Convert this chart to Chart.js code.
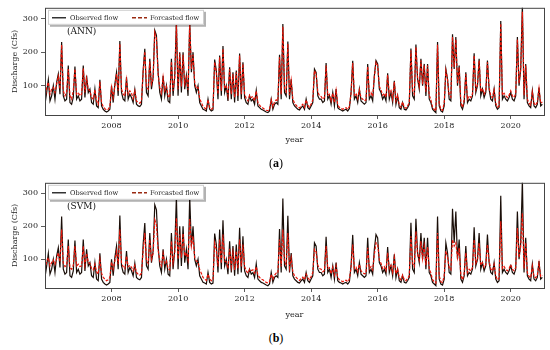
<!DOCTYPE html>
<html>
<head>
<meta charset="utf-8">
<script src="https://cdn.jsdelivr.net/npm/chart.js@4/dist/chart.umd.min.js"></script>
<style>
  body { margin: 0; background: #fff; width: 550px; height: 350px; position: relative; overflow: hidden; }
  canvas { position: absolute; left: 0; }
  .model { position: absolute; left: 67px; font: 9px "DejaVu Serif", serif; color: #111; }
  .panel-tag { position: absolute; left: 0; width: 552px; text-align: center; font: 12px "Liberation Serif", serif; color: #000; }
  .panel-tag b { color: #000; }
</style>
</head>
<body>
<canvas id="chart-a" width="550" height="150" style="top:0"></canvas>
<canvas id="chart-b" width="550" height="150" style="top:175px"></canvas>
<div class="model" style="top:26px">(ANN)</div>
<div class="model" style="top:201px">(SVM)</div>
<div class="panel-tag" style="top:156px">(<b>a</b>)</div>
<div class="panel-tag" style="top:331px">(<b>b</b>)</div>
<script>
/* ============================================================
   Observed vs forecasted discharge, ANN (a) and SVM (b)
   ============================================================ */

// time axis: one value every 0.05 year starting at 2006.0
const startYear = 2006;
const stepYears = 0.05;
const yearTicks = [2008, 2010, 2012, 2014, 2016, 2018, 2020];
const flowTicks = [100, 200, 300];

// observed flow (cfs), one row per year
const observedFlow = [
  45, 80, 118, 55, 70, 100, 60, 110, 135, 75, 230, 70, 55, 60, 160, 50, 45, 65, 157, 60,     // 2006
  70, 55, 60, 160, 65, 130, 80, 90, 50, 45, 90, 40, 35, 118, 40, 30, 25, 22, 25, 30,         // 2007
  100, 50, 105, 140, 70, 233, 80, 60, 55, 125, 60, 75, 65, 50, 88, 45, 40, 38, 45, 145,      // 2008
  210, 80, 70, 180, 90, 125, 265, 250, 140, 80, 60, 130, 70, 100, 55, 50, 180, 70, 130, 290, // 2009
  70, 200, 80, 200, 90, 130, 70, 290, 140, 200, 100, 80, 100, 50, 40, 30, 28, 25, 60, 30,    // 2010
  25, 28, 178, 145, 60, 190, 70, 218, 80, 100, 55, 155, 60, 140, 50, 145, 55, 196, 60, 170,  // 2011
  65, 50, 45, 70, 55, 60, 45, 86, 40, 35, 30, 28, 25, 22, 20, 25, 60, 30, 45, 50,            // 2012
  45, 192, 60, 284, 80, 70, 232, 60, 119, 50, 40, 35, 30, 28, 35, 40, 30, 60, 35, 30,        // 2013
  40, 50, 150, 140, 70, 60, 60, 50, 55, 168, 60, 70, 45, 80, 40, 90, 35, 30, 28, 25,         // 2014
  28, 30, 25, 32, 80, 174, 60, 70, 50, 90, 55, 50, 45, 50, 165, 60, 70, 55, 130, 175,        // 2015
  165, 90, 80, 60, 70, 55, 137, 60, 80, 50, 115, 45, 70, 35, 30, 50, 30, 28, 35, 45,         // 2016
  211, 70, 60, 223, 120, 90, 180, 100, 165, 70, 165, 60, 50, 30, 25, 20, 230, 40, 25, 22,    // 2017
  40, 150, 120, 60, 55, 253, 150, 245, 100, 160, 40, 30, 50, 140, 50, 60, 55, 70, 197, 80,   // 2018
  100, 180, 70, 90, 65, 80, 175, 90, 60, 55, 90, 40, 30, 35, 293, 60, 70, 60, 55, 65,        // 2019
  80, 60, 55, 70, 245, 100, 150, 340, 60, 165, 50, 40, 35, 85, 40, 35, 45, 95, 40, 45        // 2020
];

// ANN forecast
const annForecast = [
  60, 95, 110, 75, 90, 95, 80, 105, 128, 90, 222, 85, 70, 80, 150, 70, 60, 85, 150, 75,
  80, 70, 75, 152, 80, 122, 90, 85, 65, 60, 88, 55, 45, 112, 50, 38, 32, 28, 30, 38,
  95, 65, 100, 135, 85, 225, 90, 75, 70, 118, 75, 85, 78, 62, 85, 55, 50, 48, 55, 140,
  202, 95, 90, 172, 105, 120, 258, 240, 135, 95, 78, 125, 85, 98, 70, 65, 172, 85, 125, 282,
  90, 195, 98, 192, 105, 125, 88, 285, 150, 192, 110, 92, 95, 62, 50, 38, 34, 30, 58, 36,
  30, 34, 170, 140, 75, 185, 85, 210, 92, 98, 70, 150, 75, 135, 65, 140, 70, 190, 75, 165,
  75, 62, 55, 72, 65, 68, 55, 84, 50, 42, 36, 34, 30, 27, 26, 30, 58, 38, 52, 58,
  55, 185, 75, 276, 92, 82, 225, 72, 115, 60, 48, 42, 36, 34, 40, 45, 36, 58, 42, 36,
  46, 58, 145, 135, 82, 70, 68, 60, 65, 160, 72, 75, 55, 78, 50, 86, 42, 36, 33, 30,
  33, 35, 30, 38, 78, 168, 72, 78, 62, 88, 65, 60, 55, 58, 158, 72, 80, 68, 126, 170,
  160, 98, 88, 72, 78, 66, 132, 72, 85, 60, 112, 55, 72, 42, 36, 52, 36, 33, 40, 50,
  205, 85, 75, 215, 122, 98, 175, 105, 160, 82, 160, 72, 58, 36, 30, 25, 222, 48, 30, 27,
  48, 145, 118, 72, 66, 246, 155, 238, 108, 155, 50, 36, 58, 135, 60, 70, 65, 76, 190, 88,
  102, 175, 82, 92, 75, 85, 170, 95, 70, 65, 88, 48, 36, 40, 285, 72, 78, 70, 65, 72,
  85, 70, 65, 76, 238, 108, 148, 320, 72, 160, 60, 48, 42, 82, 48, 42, 52, 92, 48, 52
];

// SVM forecast
const svmForecast = [
  70, 95, 105, 80, 90, 98, 85, 102, 120, 92, 190, 88, 78, 82, 140, 75, 70, 82, 140, 80,
  85, 78, 80, 140, 82, 118, 90, 88, 72, 68, 85, 62, 55, 100, 58, 45, 40, 35, 38, 45,
  92, 70, 95, 125, 85, 190, 88, 78, 72, 110, 78, 82, 76, 65, 82, 60, 55, 52, 58, 125,
  180, 95, 88, 160, 100, 118, 220, 205, 128, 95, 80, 118, 88, 95, 72, 68, 155, 88, 118, 225,
  100, 175, 105, 178, 110, 120, 98, 222, 140, 170, 105, 95, 92, 68, 58, 45, 40, 36, 55, 40,
  35, 38, 150, 128, 78, 160, 88, 175, 95, 92, 72, 132, 78, 122, 68, 125, 72, 160, 78, 145,
  78, 65, 58, 70, 66, 68, 58, 78, 52, 45, 40, 38, 34, 30, 28, 32, 55, 40, 52, 58,
  58, 160, 78, 190, 92, 84, 180, 75, 105, 62, 50, 45, 40, 36, 42, 46, 38, 55, 44, 38,
  48, 60, 130, 122, 82, 72, 70, 62, 66, 140, 72, 75, 56, 76, 52, 80, 44, 38, 35, 32,
  35, 37, 32, 40, 75, 145, 72, 76, 62, 85, 65, 60, 56, 58, 135, 72, 78, 68, 115, 150,
  145, 98, 88, 72, 78, 66, 120, 72, 82, 60, 105, 56, 70, 44, 38, 52, 38, 35, 42, 50,
  170, 88, 78, 185, 115, 98, 155, 102, 140, 82, 138, 72, 58, 38, 32, 28, 180, 50, 32, 30,
  50, 125, 108, 74, 68, 160, 140, 150, 105, 135, 52, 38, 58, 120, 60, 70, 65, 75, 160, 88,
  98, 150, 82, 90, 75, 84, 145, 94, 70, 65, 85, 50, 38, 42, 215, 72, 78, 70, 65, 72,
  84, 70, 65, 75, 195, 105, 140, 240, 72, 150, 60, 48, 44, 80, 48, 44, 52, 88, 48, 52
];

const FONT = 'DejaVu Serif';
const TEXT = '#222';
const OBS_COLOR = '#1a0e08';
const FC_COLOR = '#e8160a';

function toPoints(values) {
  return values.map((v, i) => ({ x: startYear + i * stepYears, y: v }));
}

// box around the plot area (matplotlib spines)
const frameBox = {
  id: 'frameBox',
  afterDraw(chart) {
    const { ctx, chartArea: a } = chart;
    ctx.save();
    ctx.strokeStyle = '#444';
    ctx.lineWidth = 1;
    ctx.strokeRect(a.left + 0.5, a.top + 0.5, a.right - a.left, a.bottom - a.top);
    ctx.restore();
  }
};

// legend drawn inside the plot, upper left, with shadow
const insideLegend = {
  id: 'insideLegend',
  afterDraw(chart) {
    const { ctx, chartArea: a } = chart;
    const x = a.left + 3, y = a.top + 2, w = 156, h = 15;
    ctx.save();
    ctx.fillStyle = 'rgba(0,0,0,0.3)';
    ctx.fillRect(x + 2, y + 2, w, h);
    ctx.fillStyle = '#fff';
    ctx.fillRect(x, y, w, h);
    ctx.strokeStyle = '#cfcfcf';
    ctx.lineWidth = 1;
    ctx.strokeRect(x + 0.5, y + 0.5, w - 1, h - 1);

    const cy = y + h / 2 + 0.5;
    ctx.lineWidth = 1.2;
    ctx.strokeStyle = '#000';
    ctx.beginPath(); ctx.moveTo(x + 4, cy); ctx.lineTo(x + 18, cy); ctx.stroke();
    ctx.strokeStyle = '#9a2a12';
    ctx.lineWidth = 1.6;
    ctx.setLineDash([4, 2]);
    ctx.beginPath(); ctx.moveTo(x + 84, cy); ctx.lineTo(x + 99, cy); ctx.stroke();
    ctx.setLineDash([]);

    ctx.fillStyle = TEXT;
    ctx.font = '6.6px "' + FONT + '"';
    ctx.textBaseline = 'middle';
    ctx.fillText(chart.data.datasets[0].label, x + 22, cy);
    ctx.fillText(chart.data.datasets[1].label, x + 102, cy);
    ctx.restore();
  }
};

function makeChart(canvasId, forecast, xAxisHeight) {
  const ctx = document.getElementById(canvasId).getContext('2d');
  return new Chart(ctx, {
    type: 'line',
    data: {
      datasets: [
        {
          label: 'Observed flow',
          data: toPoints(observedFlow),
          borderColor: OBS_COLOR,
          borderWidth: 1.2,
          pointRadius: 0,
          tension: 0,
          order: 2
        },
        {
          label: 'Forcasted flow',
          data: toPoints(forecast),
          borderColor: FC_COLOR,
          borderWidth: 1.2,
          borderDash: [3, 1.5],
          pointRadius: 0,
          tension: 0,
          order: 1
        }
      ]
    },
    options: {
      responsive: false,
      animation: false,
      parsing: false,
      layout: { padding: { left: 0, right: 6, top: 5, bottom: 0 } },
      plugins: {
        legend: { display: false },
        tooltip: { enabled: false }
      },
      scales: {
        x: {
          type: 'linear',
          min: 2006,
          max: 2021,
          afterBuildTicks: (s) => { s.ticks = yearTicks.map(v => ({ value: v })); },
          afterFit: (s) => { s.height = xAxisHeight; },
          grid: { drawOnChartArea: false, tickLength: 4, color: '#333', lineWidth: 0.8 },
          border: { display: false },
          ticks: {
            color: TEXT,
            font: { family: FONT, size: 8 },
            padding: 2,
            maxRotation: 0,
            callback: (v) => String(v)
          },
          title: {
            display: true,
            text: 'year',
            color: TEXT,
            font: { family: FONT, size: 8 },
            padding: { top: 1, bottom: 5 }
          }
        },
        y: {
          min: 13,
          max: 332,
          afterBuildTicks: (s) => { s.ticks = flowTicks.map(v => ({ value: v })); },
          afterFit: (s) => { s.width = 45; },
          grid: { drawOnChartArea: false, tickLength: 4, color: '#333', lineWidth: 0.8 },
          border: { display: false },
          ticks: {
            color: TEXT,
            font: { family: FONT, size: 8 },
            padding: 3
          },
          title: {
            display: true,
            text: 'Discharge (Cfs)',
            color: TEXT,
            font: { family: FONT, size: 8 },
            padding: { top: 10, bottom: 0 }
          }
        }
      }
    },
    plugins: [frameBox, insideLegend]
  });
}

makeChart('chart-a', annForecast, 35);
makeChart('chart-b', svmForecast, 37);
</script>
</body>
</html>
